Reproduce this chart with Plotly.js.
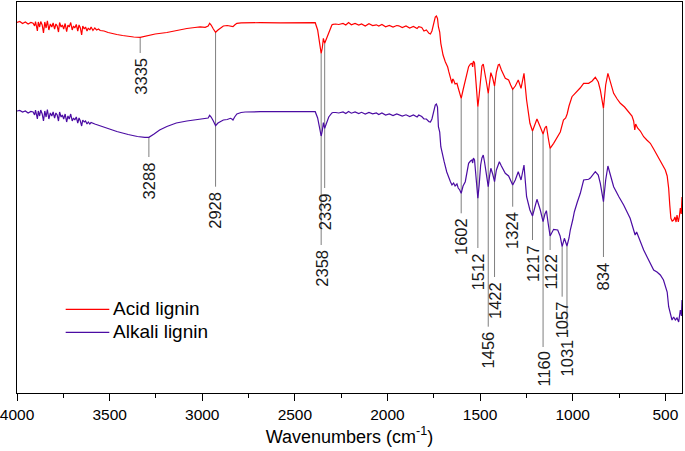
<!DOCTYPE html>
<html>
<head>
<meta charset="utf-8">
<script src="https://cdn.plot.ly/plotly-3.0.1.min.js"></script>
<style>html,body{margin:0;padding:0;background:#fff;}#chart{width:685px;height:451px;}</style>
</head>
<body>
<div id="chart"></div>
<script>
// Series names
const seriesNames = ["Acid lignin", "Alkali lignin"];
const seriesColors = ["#ff0000", "#4b0ca3"];

// Acid lignin spectrum (wavenumber cm-1, relative transmittance a.u.)
const acidWn = [4000,3985,3970,3955,3940,3925,3913,3905,3900,3895,3890,3885,3878,3872,3864,3857,3850,3843,3836,3828,3820,3812,3805,3797,3790,3783,3776,3770,3762,3755,3748,3740,3732,3725,3718,3710,3702,3695,3688,3680,3672,3665,3658,3651,3645,3637,3630,3622,3615,3607,3600,3590,3580,3570,3560,3551,3530,3508,3480,3461,3430,3400,3370,3335,3300,3254,3191,3140,3083,3040,3011,2984,2968,2960,2952,2940,2928,2915,2900,2886,2865,2848,2834,2825,2813,2790,2768,2687,2579,2471,2420,2390,2377,2368,2358,2352,2346,2339,2328,2317,2300,2294,2280,2263,2240,2225,2210,2195,2175,2155,2140,2120,2100,2080,2060,2047,2030,2010,1990,1970,1950,1939,1920,1900,1880,1860,1840,1831,1815,1803,1790,1776,1768,1760,1750,1742,1736,1730,1725,1718,1712,1700,1688,1675,1669,1660,1652,1648,1643,1635,1625,1618,1610,1602,1592,1580,1570,1562,1552,1544,1540,1536,1530,1524,1518,1512,1505,1497,1490,1483,1476,1466,1456,1448,1442,1432,1422,1412,1402,1396,1385,1364,1346,1335,1324,1310,1294,1279,1263,1249,1231,1217,1205,1193,1175,1160,1150,1142,1132,1122,1103,1085,1067,1050,1038,1030,1020,1004,986,960,941,914,895,878,862,851,834,822,810,795,779,760,743,720,698,680,671,665,660,650,635,617,600,581,563,545,520,500,490,482,476,470,463,455,448,442,437,430,424,419,414,410];
const acidT = [377.7,378.5,376.5,378,376,377.5,376.7,374,378.5,375,369,378,373,378.5,375,367,378,372,379.2,370,376,373,377,371,376,374,368,377.5,373,375,371,376.5,368.3,375,373,377.5,370,374,372,375.5,369,375,372,365,374,371,373,369,372,370,373,369.5,372,370,371,369.5,369,367.5,366,365.5,364.5,363.5,363,362.7,364,366,367.5,369.5,371.5,372.5,373.2,372.7,374,376.7,375,371,367.7,370,372,374,374.5,373.5,373.3,375,376.7,377.2,377.3,377.3,377.2,377.2,377.5,377.3,370,357,346.7,352,361.7,356.7,362,368.3,375,375.7,376,375.5,376.5,375,377.5,375.2,376.5,375,376,374,376.2,374.5,375.2,374,375.5,373.2,374.5,373,374.5,374.2,372.5,374,372,373.5,371.5,373.3,372.5,369,370,366.7,366,369,376,383,384,381.5,373.3,368,356.7,345,338.3,333,328.3,323,316.7,321,320,316,316.7,312,307,301.7,310,320,328,333.3,336,336.7,333,339,337,325,310,293.3,305,325,334,336,330,318,306.7,320,327.3,322,314,328,335,335.7,330,321.7,320,315,310.7,314,320,311.7,326.7,300,276.7,269,275,281,273,266,272,274,262,251.7,256.7,262,268,280,282,286,294,303.3,306.7,312,316.7,316.7,319,322.7,318,310,291.7,315,326.7,318,306.7,301,296.7,293,288.3,284,279,270,276,272,269,263.3,260,256.7,251,245,238,230,224,211.7,195,181.7,179,180,183,178,185,178,184,192,186,203];

// Alkali lignin spectrum (wavenumber cm-1, relative transmittance a.u.)
const alkaliWn = [4000,3985,3970,3955,3940,3925,3913,3905,3900,3895,3890,3885,3878,3872,3864,3857,3850,3843,3836,3828,3820,3812,3805,3797,3790,3783,3776,3770,3762,3755,3748,3740,3732,3725,3718,3710,3702,3695,3688,3680,3672,3665,3658,3651,3645,3637,3630,3622,3615,3607,3600,3580,3551,3508,3461,3400,3350,3310,3288,3260,3230,3191,3140,3083,3040,3011,2984,2968,2960,2952,2940,2928,2915,2900,2886,2865,2848,2840,2834,2825,2813,2790,2768,2687,2579,2471,2420,2390,2377,2368,2358,2352,2346,2339,2328,2317,2300,2294,2280,2263,2240,2225,2210,2195,2175,2155,2140,2120,2100,2080,2060,2047,2030,2010,1990,1970,1950,1939,1920,1900,1880,1860,1840,1831,1815,1803,1790,1776,1768,1760,1750,1742,1736,1730,1725,1718,1712,1700,1694,1680,1670,1660,1652,1643,1635,1625,1618,1610,1602,1592,1580,1570,1562,1552,1544,1540,1536,1530,1524,1518,1512,1505,1497,1490,1483,1476,1466,1456,1448,1442,1432,1422,1412,1402,1396,1385,1364,1346,1335,1324,1310,1294,1279,1263,1249,1231,1217,1205,1193,1175,1160,1150,1142,1132,1122,1103,1081,1068,1057,1045,1031,1020,1013,1000,991,975,959,941,914,905,878,862,851,834,822,810,795,779,750,725,690,663,655,635,617,599,581,563,545,527,510,500,490,482,470,464,455,446,437,428,419,413,410];
const alkaliT = [289,289.5,288,289,287,288.5,288,285,290,286,281,289,284,290,286,279,289,283,290.5,281,287,284,288,282,287,285,279,288,283,285,281,286,278,284,281,286,279,282,280,283,277,282,279,274,280,278,279,276,278,276,277.5,276,274,271.5,268.5,265.5,263.5,262.7,262.7,266,270,273.5,277,279,280,280.5,281,282,284.7,283,279,274.3,277,279,280,280.5,281.7,281,280,283,286,287.5,288,288.3,288.5,288.7,288.7,288.3,282,274,264,269,277.3,271.7,277,283,287,287.5,287.5,287,288,286.5,288.5,286.8,288,286.5,287.7,286,287.5,286.2,287,285.5,287,285,286,284.5,286,285.5,284,285.2,283.5,285,283,285,283.5,281,281,278.3,278,281,288,295,296,293,273.3,268,253.3,245,238.3,228,222,218.3,215,217,214,216,212,210,206.7,214,218.3,230,236.7,239,240,237,242,240,228,215,201.7,215,235,242,245,238,224,213.3,225,231.7,226,218.3,230,237,238.3,234,226.7,224,220,215,220,228.3,220,235,203.3,190,184,192,200.7,190,178.3,186,189.3,176,164,170.7,170,164,153.3,161.7,154,162,170,180,188.3,198,206.7,220,220.7,222,228.3,225,216.7,198.3,220,234,225,213.3,203,195,181.7,165,168,158.3,150,143.3,136.7,130,128,125,120,115,108,93.3,82,80,83,80,82,78,90,84,100];

// Peak labels: wavenumber, curve value at line start, line end value
const peakWn = [3335, 3288, 2928, 2358, 2339, 1602, 1512, 1456, 1422, 1324, 1217, 1160, 1122, 1057, 1031, 834];
const peakTop = [362.7, 262.7, 367.7, 346.7, 356.7, 301.7, 293.3, 306.7, 314, 310.7, 269, 266, 251.7, 153.3, 154, 291.7];
const peakEnd = [347, 243, 213.3, 155, 212, 186.7, 152, 73.3, 123, 193.3, 160, 53, 150, 103.3, 66, 143];
const peakText = peakWn.map(String);

// Axis
const xTickVals = [4000, 3500, 3000, 2500, 2000, 1500, 1000, 500];
const xTickText = ["4000", "3500", "3000", "2500", "2000", "1500", "1000", "500"];

const FONT = "Liberation Sans, Arial, sans-serif";

const traces = [
  {x: acidWn, y: acidT, type: "scatter", mode: "lines", name: seriesNames[0],
   line: {color: seriesColors[0], width: 1.2}},
  {x: alkaliWn, y: alkaliT, type: "scatter", mode: "lines", name: seriesNames[1],
   line: {color: seriesColors[1], width: 1.2}}
];

const shapes = peakWn.map((w, i) => ({
  type: "line", xref: "x", yref: "y", x0: w, x1: w, y0: peakTop[i], y1: peakEnd[i],
  line: {color: "#7f7f7f", width: 1}, layer: "below"
}));

const annotations = peakWn.map((w, i) => ({
  x: w, y: peakEnd[i], xref: "x", yref: "y", text: peakText[i], showarrow: false,
  textangle: -90, xanchor: "center", yanchor: "top", yshift: -3,
  font: {family: FONT, size: 16.5, color: "#1a1a1a"}
}));

// Legend drawn as paper-positioned keys
const legendY = [0.2141, 0.1552];
seriesNames.forEach((name, i) => {
  shapes.push({type: "line", xref: "paper", yref: "paper", x0: 0.0732, x1: 0.1388,
               y0: legendY[i], y1: legendY[i], line: {color: seriesColors[i], width: 1.2}});
  annotations.push({x: 0.1414, y: legendY[i], xref: "paper", yref: "paper", text: name,
                    showarrow: false, xanchor: "left", yanchor: "middle", yshift: 1,
                    font: {family: FONT, size: 19, color: "#000"}});
});

const layout = {
  width: 685, height: 451,
  margin: {l: 17, r: 3, t: 2, b: 58},
  paper_bgcolor: "#ffffff", plot_bgcolor: "#ffffff",
  font: {family: FONT, color: "#000"},
  showlegend: false,
  xaxis: {
    range: [4000, 410], autorange: false,
    showline: true, mirror: true, linecolor: "#000", linewidth: 1.2,
    ticks: "outside", ticklen: 7, tickwidth: 1, tickcolor: "#000",
    tickmode: "array", tickvals: xTickVals, ticktext: xTickText,
    ticklabeloverflow: "allow",
    minor: {dtick: 250, tick0: 0, ticks: "outside", ticklen: 3.5, tickwidth: 1, tickcolor: "#000", showgrid: false},
    showgrid: false, zeroline: false,
    tickfont: {family: FONT, size: 15.5, color: "#000"},
    title: {text: "Wavenumbers (cm<sup>-1</sup>)", font: {family: FONT, size: 18, color: "#000"}, standoff: 8}
  },
  yaxis: {
    range: [7, 398], autorange: false,
    showline: true, mirror: true, linecolor: "#000", linewidth: 1.2,
    ticks: "", showticklabels: false, showgrid: false, zeroline: false
  },
  shapes: shapes,
  annotations: annotations
};

Plotly.newPlot("chart", traces, layout, {displayModeBar: false, staticPlot: true});
</script>
</body>
</html>
